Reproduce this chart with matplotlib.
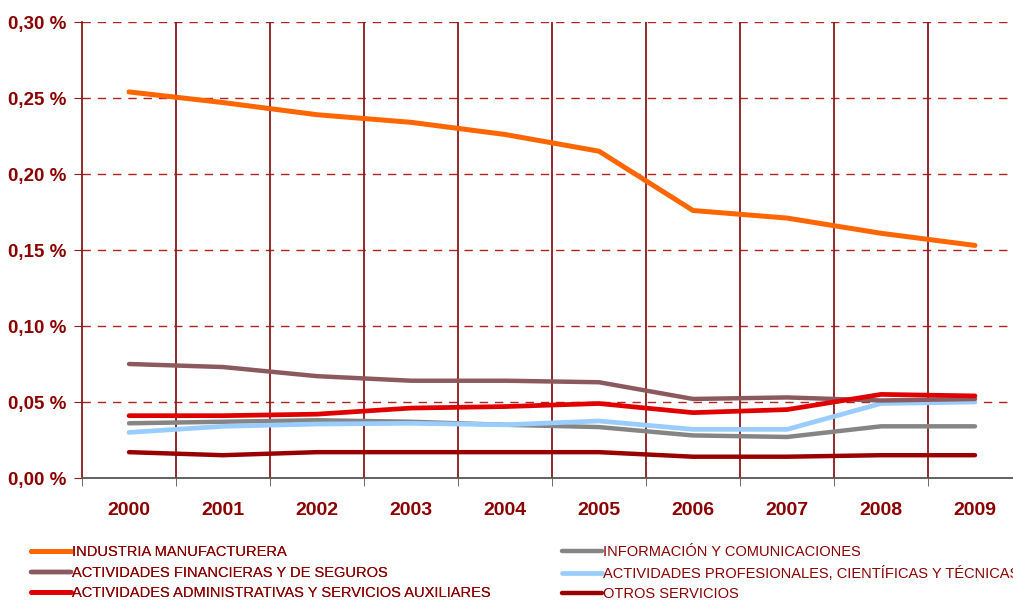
import matplotlib.pyplot as plt
import numpy as np

plt.rcParams['font.family'] = ['Liberation Sans', 'DejaVu Sans']

years = ['2000', '2001', '2002', '2003', '2004', '2005', '2006', '2007', '2008', '2009']

industria = [0.254, 0.247, 0.239, 0.234, 0.226, 0.215, 0.176, 0.171, 0.161, 0.153]
financieras = [0.075, 0.073, 0.067, 0.064, 0.064, 0.063, 0.052, 0.053, 0.051, 0.052]
administrativas = [0.041, 0.041, 0.042, 0.046, 0.047, 0.049, 0.043, 0.045, 0.055, 0.054]
informacion = [0.036, 0.037, 0.038, 0.037, 0.035, 0.0335, 0.028, 0.027, 0.034, 0.034]
profesionales = [0.030, 0.034, 0.0355, 0.036, 0.035, 0.0375, 0.032, 0.032, 0.049, 0.050]
otros = [0.017, 0.015, 0.017, 0.017, 0.017, 0.017, 0.014, 0.014, 0.015, 0.015]

labels = ['INDUSTRIA MANUFACTURERA',
          'ACTIVIDADES FINANCIERAS Y DE SEGUROS',
          'ACTIVIDADES ADMINISTRATIVAS Y SERVICIOS AUXILIARES',
          'INFORMACIÓN Y COMUNICACIONES',
          'ACTIVIDADES PROFESIONALES, CIENTÍFICAS Y TÉCNICAS',
          'OTROS SERVICIOS']
series = [industria, financieras, administrativas, informacion, profesionales, otros]
colors = ['#FF6600', '#8C5A5E', '#E00000', '#858585', '#99CCFF', '#990000']
widths = [3.6, 3.2, 3.4, 3.2, 3.4, 3.2]

txt = '#8B0000'

fig = plt.figure(figsize=(10.13, 6), dpi=100)
ax = fig.add_axes([82 / 1013, 1 - 478 / 600, 940 / 1013, 456 / 600])

x = np.arange(len(years))
# draw order: orange on top, then others
order = [3, 4, 5, 1, 2, 0]
lines = {}
for i in order:
    ln, = ax.plot(x, series[i], color=colors[i], lw=widths[i],
                  solid_capstyle='round', zorder=3 + order.index(i))
    lines[i] = ln

ax.set_xlim(-0.5, 9.5)
ax.set_ylim(0, 0.30)

# grid
for yv in np.arange(0.05, 0.31, 0.05):
    ax.axhline(yv, color='#B22222', lw=1, ls=(0, (6, 5)), zorder=1)
for xv in np.arange(0.5, 9, 1):
    ax.axvline(xv, color='#8B1A1A', lw=1.3, zorder=1)

ax.set_yticks(np.arange(0, 0.31, 0.05))
ax.set_yticklabels([f'{v:.2f} %'.replace('.', ',') for v in np.arange(0, 0.31, 0.05)])
ax.set_xticks(x)
ax.set_xticklabels(years)
ax.set_xticks(np.arange(-0.5, 10, 1), minor=True)
ax.tick_params(axis='x', which='major', length=0, pad=17, labelsize=14, labelcolor=txt)
ax.tick_params(axis='x', which='minor', length=6, color='#555555', direction='out')
ax.tick_params(axis='y', length=6, color='#8B1A1A', pad=5, labelsize=13.5, labelcolor=txt)
for lab in ax.get_xticklabels() + ax.get_yticklabels():
    lab.set_fontweight('bold')

for s in ['top', 'right']:
    ax.spines[s].set_visible(False)
ax.spines['left'].set_color('#8B1A1A')
ax.spines['left'].set_linewidth(1.3)
ax.spines['bottom'].set_color('#555555')
ax.spines['bottom'].set_linewidth(1.3)

leg_kw = dict(loc='upper left', frameon=False, fontsize=10.5, handlelength=2.7,
              handletextpad=0.1, labelspacing=0.45, labelcolor=txt)
leg1 = fig.legend([lines[i] for i in [0, 1, 2]], [labels[i] for i in [0, 1, 2]],
                  bbox_to_anchor=(18 / 1013, 1 - 532 / 600), **leg_kw)
leg2 = fig.legend([lines[i] for i in [3, 4, 5]], [labels[i] for i in [3, 4, 5]],
                  bbox_to_anchor=(549 / 1013, 1 - 532 / 600), **leg_kw)
fig.add_artist(leg1)

fig.savefig('out.png', dpi=100)
